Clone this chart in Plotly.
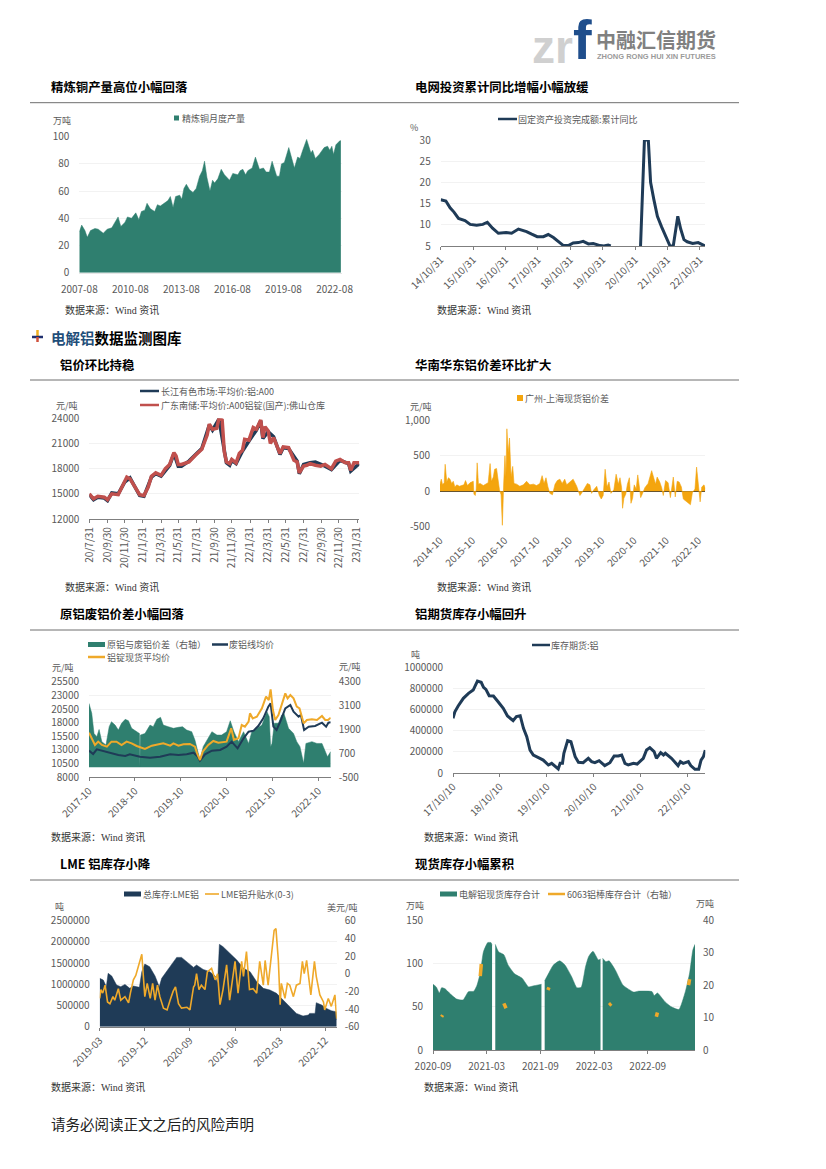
import plotly.graph_objects as go

W, H = 826, 1169
TEAL = "#2f7f6f"; NAVY = "#1f3b57"; RED = "#c0504d"; ORANGE = "#f4a50e"; GOLD = "#efa92a"
GREY = "#595959"; GRID = "#f2f2f2"; AX = "#7f7f7f"
SANS = "Noto Sans CJK SC"; SERIF = "Liberation Serif, Noto Sans CJK SC"

# ---- x values are years since 2000 (decimal) ----
copper_x = [7.58,7.72,7.91,8.05,8.24,8.5,8.69,8.85,8.99,9.22,9.49,9.67,9.86,10.02,10.26,10.41,10.65,10.9,11.08,11.23,11.43,11.56,11.76,12.01,12.17,12.34,12.6,12.79,12.93,13.09,13.24,13.48,13.6,13.73,13.87,14.06,14.26,14.45,14.65,14.81,14.94,15.08,15.26,15.41,15.53,15.72,15.92,16.11,16.41,16.6,16.9,17.03,17.19,17.35,17.48,17.74,17.93,18.17,18.4,18.56,18.75,18.91,19.18,19.34,19.46,19.63,19.89,20.22,20.41,20.55,20.71,20.94,21.19,21.29,21.45,21.68,21.97,22.17,22.3,22.42,22.52,22.66,22.89,22.95]
copper_y = [30,35,31,26,31,32.5,32,30,29,32,33,37,41,34,37,41,40,44,39,45,46,51,47,45,50,49,51,53,56,48,56,57,54,62,65,61,59,62,71,75,82,70,60,68,66,69,76,72,68,73,72,75,76,72,75,77,85,76,77,74,74,82,71,71,80,81,92,77,85,84,90,98,88,90,84,87,92,93,90,93,87,94,97,97]
copper_ticks = [7.58,10.58,13.58,16.58,19.58,22.58]
copper_labels = ["2007-08","2010-08","2013-08","2016-08","2019-08","2022-08"]

grid_x = [14.83,14.99,15.12,15.24,15.38,15.58,15.74,15.94,16.13,16.27,16.43,16.61,16.85,17.02,17.23,17.48,17.64,17.81,18.0,18.15,18.31,18.46,18.62,18.77,18.92,19.08,19.23,19.39,19.54,19.75,19.87,20.0,20.08,20.09,20.99,21.0,21.12,21.24,21.31,21.41,21.52,21.65,21.81,21.91,22.01,22.15,22.24,22.34,22.44,22.61,22.78,22.89,22.99]
grid_y = [15.9,15.6,14,13,11.5,11,10.1,9.9,10.1,10.6,9.2,8,8.2,8,9,8.4,7.8,7.2,7.2,7.7,7,6,5.1,5.1,5.7,5.8,6.1,5.5,5.6,5.1,5,5.2,5,None,None,5,30,30,20,16,12,9.5,6.5,5,5,12,9,6.5,6,5.6,5.8,5.3,5]
grid_ticks = [14.83,15.83,16.83,17.83,18.83,19.83,20.83,21.83,22.83]
grid_labels = ["14/10/31","15/10/31","16/10/31","17/10/31","18/10/31","19/10/31","20/10/31","21/10/31","22/10/31"]

al_red_x = [20.58,20.62,20.66,20.72,20.75,20.79,20.85,20.91,20.93,20.96,21.01,21.05,21.09,21.13,21.16,21.2,21.25,21.29,21.33,21.37,21.39,21.41,21.44,21.51,21.57,21.63,21.68,21.7,21.73,21.77,21.79,21.82,21.84,21.86,21.89,21.91,21.95,21.98,22.01,22.03,22.07,22.11,22.14,22.18,22.2,22.22,22.25,22.27,22.3,22.33,22.36,22.39,22.44,22.49,22.52,22.54,22.58,22.61,22.64,22.69,22.74,22.78,22.84,22.88,22.92,22.97,23.0,23.02,23.05,23.1]
al_red_y = [15000,14400,14700,14600,14300,15000,14900,16500,17000,16800,15800,14900,14800,15800,17100,17500,17200,18000,18500,19900,19500,18500,18500,18800,19600,20300,22000,23300,22700,22800,24000,23800,20000,18800,18600,19100,18700,19800,20200,21500,21400,22900,22700,23800,21700,23000,22500,21000,21700,20800,19800,20600,20500,19000,18800,17500,18300,18400,18600,18400,18300,18500,18000,18900,19100,18700,18700,17800,18700,18700]
al_navy_x = [20.58,20.62,20.66,20.72,20.75,20.79,20.85,20.91,20.96,21.01,21.05,21.09,21.16,21.2,21.25,21.33,21.37,21.41,21.44,21.51,21.57,21.63,21.7,21.73,21.79,21.84,21.86,21.89,21.91,21.95,22.01,22.07,22.14,22.18,22.2,22.25,22.3,22.36,22.39,22.44,22.52,22.54,22.58,22.64,22.69,22.78,22.84,22.92,23.0,23.02,23.1]
al_navy_y = [14900,14300,14600,14500,14200,15100,15000,16400,16900,15700,14800,14700,17000,17400,17100,18400,19800,18300,18300,18900,19700,20400,23200,22600,23900,19900,18700,18400,19000,18600,20100,21300,22600,23700,21600,22400,21800,19700,20500,20400,18900,17400,18500,18700,18800,18300,17900,19000,18600,17700,18600]
al_ticks = [20.58,20.75,20.91,21.08,21.25,21.41,21.58,21.75,21.91,22.08,22.25,22.41,22.58,22.75,22.91,23.08]
al_labels = ["20/7/31","20/9/30","20/11/30","21/1/31","21/3/31","21/5/31","21/7/31","21/9/30","21/11/30","22/1/31","22/3/31","22/5/31","22/7/31","22/9/30","22/11/30","23/1/31"]

spread_x = [14.83,14.87,14.91,14.96,14.99,15.04,15.09,15.14,15.19,15.24,15.29,15.35,15.43,15.5,15.57,15.62,15.68,15.76,15.82,15.86,15.88,15.92,15.95,15.98,16.02,16.07,16.17,16.25,16.32,16.38,16.42,16.48,16.52,16.58,16.62,16.67,16.72,16.76,16.8,16.84,16.87,16.9,16.94,16.98,17.03,17.08,17.12,17.2,17.3,17.41,17.51,17.61,17.72,17.82,17.92,17.99,18.05,18.11,18.17,18.23,18.31,18.39,18.46,18.54,18.61,18.69,18.75,18.85,18.95,19.06,19.16,19.21,19.29,19.39,19.47,19.52,19.59,19.68,19.76,19.82,19.88,19.94,20.0,20.06,20.12,20.21,20.28,20.35,20.4,20.45,20.48,20.52,20.58,20.63,20.69,20.74,20.79,20.84,20.9,20.95,21.0,21.04,21.1,21.17,21.27,21.38,21.45,21.5,21.55,21.63,21.69,21.74,21.81,21.89,21.96,22.05,22.11,22.17,22.23,22.3,22.36,22.44,22.51,22.58,22.64,22.72,22.77,22.82,22.88,22.93,23.0,23.04]
spread_y = [100,170,90,120,380,130,190,170,110,140,60,90,70,80,90,150,80,120,130,140,-40,-60,30,400,100,110,80,100,120,390,140,200,310,320,200,20,-50,-480,100,500,200,880,540,750,200,350,110,100,70,90,140,90,100,80,110,220,110,190,60,-30,-50,100,150,170,110,170,90,130,170,70,-60,-30,40,110,90,-30,20,70,-60,-110,-60,310,60,130,-30,20,240,100,190,50,-240,-100,-40,100,190,-170,-100,90,30,230,60,-90,-30,50,110,290,180,100,200,130,50,-60,150,120,-90,200,-80,140,130,60,-110,-140,-160,-190,-20,30,340,100,-150,60,90,40]
spread_ticks = [14.83,15.83,16.83,17.83,18.83,19.83,20.83,21.83,22.83]
spread_labels = ["2014-10","2015-10","2016-10","2017-10","2018-10","2019-10","2020-10","2021-10","2022-10"]

scrap_x = [17.83,17.89,17.94,18.0,18.05,18.11,18.2,18.27,18.32,18.4,18.47,18.54,18.62,18.69,18.76,18.83,18.91,18.93,18.94,18.95,19.05,19.16,19.23,19.31,19.39,19.45,19.56,19.67,19.78,19.87,19.96,20.07,20.14,20.22,20.25,20.32,20.43,20.51,20.62,20.72,20.83,20.91,20.99,21.09,21.2,21.31,21.38,21.49,21.6,21.71,21.76,21.79,21.82,21.87,21.96,22.03,22.08,22.18,22.29,22.36,22.43,22.51,22.56,22.69,22.8,22.91,22.98,23.03,23.1]
scrap_diff = [3210,2710,1700,1540,1900,1290,1120,2040,2290,2120,1870,2210,2410,2340,1960,1840,1740,1700,30,1620,1700,2120,2040,2410,2510,2120,2040,1960,2010,2040,1870,1790,1370,620,370,1040,1450,1790,1620,1620,1790,2340,1790,1290,1790,1200,1790,1960,2120,2790,2540,1040,1200,2210,2210,2620,2710,1960,1700,1290,1040,200,1200,1290,1200,1200,790,530,790]
ingot_x = [17.83,17.89,17.96,18.03,18.11,18.22,18.32,18.43,18.54,18.65,18.76,18.87,19.05,19.2,19.34,19.45,19.6,19.67,19.78,19.89,20.03,20.14,20.2,20.25,20.31,20.43,20.54,20.65,20.83,20.93,20.99,21.09,21.16,21.23,21.31,21.34,21.4,21.49,21.6,21.69,21.75,21.79,21.84,21.89,21.96,22.03,22.11,22.16,22.22,22.29,22.36,22.42,22.51,22.58,22.69,22.8,22.91,22.98,23.04,23.1]
ingot_y = [16170,15140,13920,14530,13920,13610,14530,14530,13920,14530,14220,13730,13180,13790,14040,14220,13790,14220,13790,14040,14100,13610,12090,11170,12700,13920,14650,14340,14530,16960,14830,15140,17570,17270,18180,19710,18790,19100,20620,22760,22150,24100,20320,18490,19400,21230,23370,22450,23060,22450,20930,20620,17880,18490,18610,18490,19220,18490,18490,18920]
scrap_line_x = [17.83,17.92,18.0,18.11,18.29,18.47,18.62,18.72,18.94,19.16,19.38,19.6,19.78,19.96,20.11,20.2,20.25,20.36,20.51,20.69,20.83,20.94,21.07,21.2,21.31,21.42,21.52,21.63,21.74,21.79,21.85,21.92,22.0,22.11,22.22,22.29,22.4,22.45,22.52,22.62,22.76,22.91,23.0,23.05,23.1]
scrap_line_y = [12880,12270,13120,12880,12390,12090,11900,12210,11780,11600,11780,12210,12090,12210,12510,11780,11050,12210,12880,13000,13610,14530,13300,15140,16350,16540,17390,18790,20930,21540,17270,16660,18180,20620,21230,20010,19100,19400,16660,17270,17390,18000,17270,18000,18060]
scrap_ticks = [17.83,18.83,19.83,20.83,21.83,22.83]
scrap_labels = ["2017-10","2018-10","2019-10","2020-10","2021-10","2022-10"]

fut_x = [17.77,17.81,17.88,17.99,18.1,18.2,18.29,18.37,18.42,18.47,18.54,18.63,18.73,18.84,18.93,19.05,19.12,19.2,19.27,19.34,19.41,19.48,19.62,19.69,19.8,19.87,20.01,20.05,20.1,20.13,20.21,20.28,20.37,20.44,20.54,20.65,20.72,20.79,20.88,21.0,21.11,21.2,21.29,21.36,21.43,21.5,21.61,21.69,21.82,21.89,21.96,22.05,22.1,22.19,22.25,22.29,22.42,22.56,22.61,22.67,22.78,22.83,22.92,23.0,23.05,23.1,23.14]
fut_y = [519000,582000,636000,709000,756000,788000,873000,861000,813000,794000,734000,731000,677000,614000,541000,497000,535000,544000,424000,345000,218000,171000,139000,123000,76000,92000,38000,92000,92000,187000,307000,297000,155000,101000,98000,139000,108000,98000,117000,70000,98000,161000,161000,171000,92000,76000,92000,85000,139000,218000,241000,203000,139000,193000,171000,187000,139000,70000,108000,92000,108000,70000,35000,35000,123000,155000,218000]
fut_ticks = [17.77,18.77,19.77,20.77,21.77,22.77]
fut_labels = ["17/10/10","18/10/10","19/10/10","20/10/10","21/10/10","22/10/10"]

lme_x = [19.17,19.23,19.28,19.31,19.37,19.45,19.52,19.59,19.67,19.73,19.83,19.87,19.92,20.0,20.09,20.16,20.2,20.28,20.37,20.45,20.53,20.64,20.73,20.78,20.89,21.0,21.09,21.13,21.16,21.22,21.33,21.45,21.56,21.67,21.78,21.89,22.0,22.11,22.22,22.33,22.44,22.55,22.64,22.66,22.75,22.77,22.86,22.94,23.02,23.1,23.11]
lme_y = [1140000,1100000,943000,1258000,1195000,983000,943000,998000,904000,959000,928000,1297000,1478000,1415000,1195000,943000,1140000,1297000,1494000,1635000,1635000,1494000,1399000,1454000,1352000,1297000,1195000,1022000,1942000,1887000,1730000,1572000,1376000,1297000,1061000,904000,865000,786000,629000,472000,314000,252000,275000,314000,314000,566000,511000,432000,377000,354000,157000]
prem_x = [19.17,19.19,19.22,19.26,19.3,19.34,19.39,19.42,19.48,19.52,19.59,19.65,19.68,19.73,19.77,19.81,19.84,19.87,19.9,19.92,19.96,20.01,20.05,20.09,20.13,20.17,20.23,20.29,20.34,20.39,20.43,20.48,20.53,20.62,20.67,20.73,20.75,20.78,20.82,20.86,20.92,20.96,21.03,21.09,21.13,21.17,21.22,21.28,21.33,21.37,21.42,21.47,21.53,21.56,21.61,21.66,21.72,21.78,21.83,21.89,21.92,21.97,22.03,22.07,22.1,22.14,22.17,22.19,22.25,22.29,22.33,22.39,22.44,22.5,22.54,22.57,22.61,22.65,22.68,22.74,22.77,22.83,22.89,22.91,22.97,23.02,23.08,23.11]
prem_y = [-28,-18,-22,-13,-32,-34,-26,-30,-17,-30,-26,-33,-22,-7,-2,8,15,22,-7,-26,-11,-28,-11,-30,-13,-26,-39,-41,-30,-20,-15,-34,-39,-38,-41,-15,-13,0,-18,-13,-18,2,6,-7,0,-35,-18,10,-30,-11,14,-22,14,-3,25,-18,-17,-22,14,-13,15,-13,23,49,51,15,-35,-11,-28,-11,-13,-26,-13,-11,14,0,15,-9,-24,14,-3,-24,-32,-41,-28,-37,-24,-51]
lme_ticks = [19.17,19.92,20.67,21.42,22.17,22.92]
lme_labels = ["2019-03","2019-12","2020-09","2021-06","2022-03","2022-12"]

spot_x = [20.67,20.7,20.73,20.75,20.78,20.83,20.89,20.95,21.0,21.05,21.08,21.11,21.14,21.18,21.21,21.22,21.23,21.25,21.28,21.33,21.37,21.43,21.5,21.56,21.6,21.68,21.69,21.71,21.74,21.79,21.85,21.9,21.96,22.01,22.05,22.09,22.12,22.16,22.21,22.23,22.24,22.25,22.28,22.31,22.37,22.44,22.54,22.58,22.71,22.73,22.76,22.83,22.89,22.96,23.02,23.06,23.09,23.11]
spot_y = [76,73,66,72,71,65,59,58,67.5,68,75,89,113.5,124,124,121,None,122,113.5,110,98,88,83,73,74,76,None,80,87,98,103,98,85,72,72.5,96,108,114,104,105,None,106,102,103,92,75,67,68,67.5,63,66,56,50,47,67.5,89,115.5,122]
rod_x = [20.75,20.76,None,21.11,21.12,None,21.33,21.35,None,21.74,21.75,None,22.31,22.33,None,22.75,22.76,None,23.05,23.06]
rod_y = [10.3,10.8,None,22.8,26.5,None,14.4,12.9,None,18.5,19.3,None,13.8,14.4,None,10.3,11.6,None,20,21.8]
spot_ticks = [20.67,21.17,21.67,22.17,22.67]
spot_labels = ["2020-09","2021-03","2021-09","2022-03","2022-09"]

fig = go.Figure()
layout = {}
shapes = []

def px_x(x0, x1): return [x0 / W, x1 / W]
def px_y(top, bot): return [1 - bot / H, 1 - top / H]
tick_font = dict(family=SANS, size=10, color=GREY)

def make_x(n, rect, rng, ticks, labels, angle=0, tick=True, line=AX, standoff=0, yid=None):
    layout[f"xaxis{n}"] = dict(domain=px_x(rect[0], rect[1]), range=rng, anchor=yid or f"y{n}",
        tickvals=ticks, ticktext=labels, tickangle=angle, showgrid=False, zeroline=False,
        showline=True, linecolor=line, linewidth=1.2, ticks="outside" if tick else "", ticklen=3,
        tickcolor=line, tickfont=tick_font, automargin=False, ticklabelstandoff=standoff)

def make_y(name, rect, rng, ticks, side="left", xid="x", overlay=None, grid=True):
    d = dict(domain=px_y(rect[2], rect[3]), range=rng, anchor=xid, side=side, tickvals=ticks,
        ticktext=[f"{t:d}" for t in ticks], showgrid=grid, gridcolor=GRID, zeroline=False, showline=False,
        tickfont=tick_font, ticks="", automargin=False, ticklabelstandoff=9 if side == "left" else 7)
    if overlay:
        d["overlaying"] = overlay
        d.pop("domain")
    layout[name] = d

legend_count = [0]
def legend_item(label, text_x, y, swatch_x, color, thick=2.5, size=9):
    """One legend entry: real legend text, with its key drawn at the reference's length."""
    legend_count[0] += 1
    key = "legend" if legend_count[0] == 1 else f"legend{legend_count[0]}"
    layout[key] = dict(x=(text_x - 40) / W, y=1 - y / H, xanchor="left", yanchor="middle", orientation="h",
        font=dict(family=SANS, size=size, color=GREY), bgcolor="rgba(0,0,0,0)", itemwidth=30,
        itemclick=False, itemdoubleclick=False)
    fig.add_trace(go.Scatter(x=[None], y=[None], mode="lines", name=label, legend=key, showlegend=True,
                             line=dict(color="rgba(0,0,0,0)", width=0), hoverinfo="skip"))
    shapes.append(dict(type="line", xref="paper", yref="paper", x0=swatch_x[0]/W, x1=swatch_x[1]/W,
                       y0=1-y/H, y1=1-y/H, line=dict(color=color, width=thick)))

# rect = left, right, top, bottom in page pixels
R1 = (79.3, 341.7, 136.7, 272.7)
R2 = (440.7, 705, 140, 246)
R3 = (89.3, 359.3, 418.3, 519)
R4 = (440, 705.3, 420.3, 526.7)
R5 = (89, 330.7, 681.7, 777.3)
R6 = (453, 705.3, 667.7, 773)
R7 = (99.7, 336.7, 920.7, 1026.7)
R8 = (433, 695, 920, 1050.3)

# Chart 1
make_x(1, R1, [7.58, 23.0], copper_ticks, copper_labels, tick=False, line="#e6e6e6", standoff=7)
make_y("yaxis", R1, [0, 100], [0,20,40,60,80,100], xid="x")
fig.add_trace(go.Scatter(x=copper_x, y=copper_y, mode="lines", fill="tozeroy", fillcolor=TEAL, name="精炼铜月度产量",
    line=dict(color=TEAL, width=0.5), showlegend=False, xaxis="x", yaxis="y"))
legend_item("精炼铜月度产量", 182, 118, (174, 179), TEAL, thick=5)

# Chart 2
make_x(2, R2, [14.83, 22.99], grid_ticks, grid_labels, angle=-45)
make_y("yaxis2", R2, [5, 30], [5,10,15,20,25,30], xid="x2")
fig.add_trace(go.Scatter(x=grid_x, y=grid_y, mode="lines", name="固定资产投资完成额:累计同比", showlegend=False,
    line=dict(color=NAVY, width=3), xaxis="x2", yaxis="y2"))
legend_item("固定资产投资完成额:累计同比", 518, 119, (498, 517), NAVY)

# Chart 3
make_x(3, R3, [20.58, 23.1], al_ticks, al_labels, angle=-90)
make_y("yaxis3", R3, [12000, 24000], [12000,15000,18000,21000,24000], xid="x3")
fig.add_trace(go.Scatter(x=al_navy_x, y=al_navy_y, mode="lines", name="长江有色市场:平均价:铝:A00", showlegend=False,
    line=dict(color=NAVY, width=3.5), xaxis="x3", yaxis="y3"))
fig.add_trace(go.Scatter(x=al_red_x, y=al_red_y, mode="lines", name="广东南储:平均价:A00铝锭(国产):佛山仓库", showlegend=False,
    line=dict(color=RED, width=3.5), xaxis="x3", yaxis="y3"))
legend_item("长江有色市场:平均价:铝:A00", 161, 391, (140, 159), NAVY)
legend_item("广东南储:平均价:A00铝锭(国产):佛山仓库", 161, 405, (140, 159), RED)

# Chart 4
make_x(4, R4, [14.83, 23.04], spread_ticks, spread_labels, angle=-45, tick=False, line="rgba(0,0,0,0)", standoff=3)
make_y("yaxis4", R4, [-500, 1000], [-500,0,500,1000], xid="x4")
layout["yaxis4"]["ticktext"] = ["-500","0","500","1,000"]
layout["yaxis4"].update(zeroline=True, zerolinecolor="#3a3a3a", zerolinewidth=1.2)
fig.add_trace(go.Scatter(x=spread_x, y=spread_y, mode="lines", fill="tozeroy", fillcolor=ORANGE, name="广州-上海现货铝价差",
    line=dict(color=ORANGE, width=0.6), showlegend=False, xaxis="x4", yaxis="y4"))
legend_item("广州-上海现货铝价差", 525, 398, (517, 523), ORANGE, thick=6)

# Chart 5: the right axis is the base so that the lines sit above the area
make_x(5, R5, [17.83, 23.1], scrap_ticks, scrap_labels, angle=-45)
make_y("yaxis5", R5, [-500, 4300], [-500,700,1900,3100,4300], side="right", xid="x5", grid=False)
make_y("yaxis9", R5, [8000, 25500], [8000,10500,13000,15500,18000,20500,23000,25500], xid="x5", overlay="y5")
fig.add_trace(go.Scatter(x=scrap_x, y=scrap_diff, mode="lines", fill="tozeroy", fillcolor=TEAL, showlegend=False,
    line=dict(color=TEAL, width=0.5), name="原铝与废铝价差（右轴）", xaxis="x5", yaxis="y5"))
fig.add_trace(go.Scatter(x=scrap_line_x, y=scrap_line_y, mode="lines", name="废铝线均价", showlegend=False,
    line=dict(color=NAVY, width=2), xaxis="x5", yaxis="y9"))
fig.add_trace(go.Scatter(x=ingot_x, y=ingot_y, mode="lines", name="铝锭现货平均价", showlegend=False,
    line=dict(color=GOLD, width=2), xaxis="x5", yaxis="y9"))
legend_item("原铝与废铝价差（右轴）", 107, 644.5, (88, 105), TEAL, thick=5)
legend_item("废铝线均价", 229, 644.5, (212, 228), NAVY)
legend_item("铝锭现货平均价", 107, 657, (88, 105), GOLD)

# Chart 6
make_x(6, R6, [17.77, 23.14], fut_ticks, fut_labels, angle=-45)
make_y("yaxis6", R6, [0, 1000000], [0,200000,400000,600000,800000,1000000], xid="x6")
fig.add_trace(go.Scatter(x=fut_x, y=fut_y, mode="lines", name="库存期货:铝", showlegend=False,
    line=dict(color=NAVY, width=3), xaxis="x6", yaxis="y6"))
legend_item("库存期货:铝", 551, 645, (532, 550), NAVY)

# Chart 7
make_x(7, R7, [19.17, 23.11], lme_ticks, lme_labels, angle=-45)
make_y("yaxis7", R7, [0, 2500000], [0,500000,1000000,1500000,2000000,2500000], xid="x7")
make_y("yaxis10", R7, [-60, 60], [-60,-40,-20,0,20,40,60], side="right", xid="x7", overlay="y7", grid=False)
fig.add_trace(go.Scatter(x=lme_x, y=lme_y, mode="lines", fill="tozeroy", fillcolor=NAVY, showlegend=False,
    line=dict(color=NAVY, width=0.5), name="总库存:LME铝", xaxis="x7", yaxis="y7"))
fig.add_trace(go.Scatter(x=prem_x, y=prem_y, mode="lines", name="LME铝升贴水(0-3)", showlegend=False,
    line=dict(color=GOLD, width=1.6), xaxis="x7", yaxis="y10"))
legend_item("总库存:LME铝", 143, 894, (124, 141), NAVY, thick=5)
legend_item("LME铝升贴水(0-3)", 221, 894, (205, 219), GOLD, thick=1.6)

# Chart 8: the area has real gaps in its data, so each unbroken run is its own filled trace
make_x(8, R8, [20.67, 23.11], spot_ticks, spot_labels, standoff=4)
make_y("yaxis8", R8, [0, 150], [0,50,100,150], xid="x8")
make_y("yaxis11", R8, [0, 40], [0,10,20,30,40], side="right", xid="x8", overlay="y8", grid=False)
run_x, run_y = [], []
for xv, yv in list(zip(spot_x, spot_y)) + [(None, None)]:
    if yv is None:
        fig.add_trace(go.Scatter(x=run_x, y=run_y, mode="lines", fill="tozeroy", fillcolor=TEAL, showlegend=False,
            line=dict(color=TEAL, width=0.5, shape="spline", smoothing=0.5), name="电解铝现货库存合计", xaxis="x8", yaxis="y8"))
        run_x, run_y = [], []
    else:
        run_x.append(xv); run_y.append(yv)
fig.add_trace(go.Scatter(x=rod_x, y=rod_y, mode="lines", name="6063铝棒库存合计（右轴）", showlegend=False,
    line=dict(color=GOLD, width=3.5), xaxis="x8", yaxis="y11"))
legend_item("电解铝现货库存合计", 459, 894, (440, 457), TEAL, thick=5)
legend_item("6063铝棒库存合计（右轴）", 567, 894, (548, 565), GOLD)

# ---- page text ----
anns = []
def text(s, x, y, size=10, color=GREY, family=SANS, anchor="left", bold=False):
    anns.append(dict(text=f"<b>{s}</b>" if bold else s, x=x / W, y=1 - y / H, xref="paper", yref="paper",
        xanchor=anchor, yanchor="middle", showarrow=False, font=dict(family=family, size=size, color=color)))

for s, x, y in [("精炼铜产量高位小幅回落",49,87),("电网投资累计同比增幅小幅放缓",413,87),("铝价环比持稳",58,365),
                ("华南华东铝价差环比扩大",413,365),("原铝废铝价差小幅回落",58,614),("铝期货库存小幅回升",413,614),
                ("LME 铝库存小降",58,864),("现货库存小幅累积",413,864)]:
    text(s, x, y, size=12.4, color="#000000", bold=True)
for x, y in [(63,310),(435,310),(63,587),(435,587),(49,837),(422,837),(49,1087),(422,1087)]:
    text("数据来源：Wind 资讯", x, y, size=10, color="#333333", family=SERIF)
for s, x, y in [("万吨",62,121),("%",414,127),("元/吨",67,405),("元/吨",421,406),("元/吨",63,667),("元/吨",350,666),
                ("吨",415,654),("吨",60,906),("美元/吨",342,907),("万吨",415,905),("万吨",705,903)]:
    text(s, x, y, size=9, anchor="center")
text("<b><span style='color:#1f4e79'>电解铝</span>数据监测图库</b>", 49, 337, size=14.5, color="#000000")
text("请务必阅读正文之后的风险声明", 49, 1123, size=14.5, color="#222222")
# logo
text("zr", 530, 47, size=46, color="#d0d0d0", family="Liberation Sans", bold=True)
text("f", 571, 39, size=56, color="#1f4e8c", family="Liberation Sans", bold=True)
text("中融汇信期货", 594, 39, size=20, color="#808080", bold=True)
text("ZHONG RONG HUI XIN FUTURES", 595, 56, size=7.5, color="#9a9a9a", family="Liberation Sans", bold=True)

# ---- rules and the little section icon ----
for y in [102.7, 380, 630, 880]:
    shapes.append(dict(type="line", xref="paper", yref="paper", x0=30/W, x1=739/W, y0=1-y/H, y1=1-y/H,
                       line=dict(color="#6e6e6e", width=1)))
for (x0, y0, x1, y1, c) in [(37.5,330,37.5,337,"#f0b020"),(32,337,43,337,"#1f2f6f"),(37.5,337,37.5,342,"#d0503c")]:
    shapes.append(dict(type="line", xref="paper", yref="paper", x0=x0/W, x1=x1/W, y0=1-y0/H, y1=1-y1/H,
                       line=dict(color=c, width=2.5)))

fig.update_layout(width=W, height=H, margin=dict(l=0, r=0, t=0, b=0), paper_bgcolor="white", plot_bgcolor="white",
                  annotations=anns, shapes=shapes, showlegend=True, **layout)
fig.write_html("out.html", config={"displayModeBar": False}, post_script="document.body.style.margin='0';")
